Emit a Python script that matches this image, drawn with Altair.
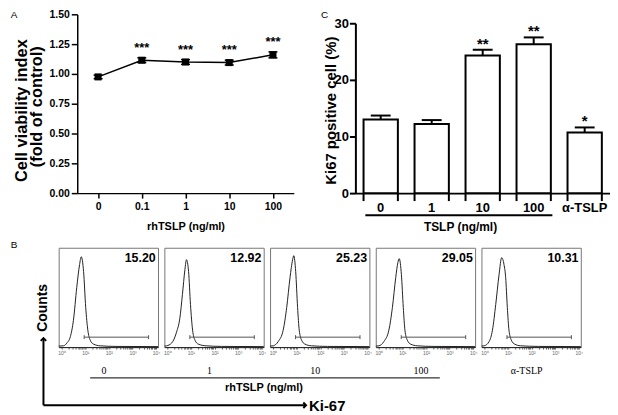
import altair as alt
import pandas as pd

SANS = "Liberation Sans, Arial, Helvetica, sans-serif"
SERIF = "Liberation Serif, Times New Roman, serif"

# ---------------- Panel A : cell viability ----------------
a_conc = ["0", "0.1", "1", "10", "100"]
a_mean = [0.975, 1.115, 1.100, 1.095, 1.160]
a_sem = [0.015, 0.020, 0.020, 0.020, 0.025]
a_sig = ["", "***", "***", "***", "***"]
a_yticks = [0.0, 0.25, 0.5, 0.75, 1.0, 1.25, 1.5]

# ---------------- Panel C : Ki67 positive cells ----------------
c_group = ["0", "1", "10", "100", "α-TSLP"]
c_mean = [13.0, 12.2, 24.3, 26.3, 10.7]
c_sem = [0.7, 0.7, 1.0, 1.2, 0.9]
c_sig = ["", "", "**", "**", "*"]
c_yticks = [0, 10, 20, 30]

# ---------------- Panel B : flow cytometry histograms ----------------
b_group = ["0", "1", "10", "100", "α-TSLP"]
b_pct = ["15.20", "12.92", "25.23", "29.05", "10.31"]
# log10 fluorescence / counts (% of max scale)
b_log_0 = [-0.12, 0.08, 0.22, 0.37, 0.50, 0.64, 0.76, 0.83, 0.93, 1.02, 1.11, 1.21, 1.35, 1.63, 2.3, 4.08]
b_cnt_0 = [1.0, 1.3, 4.0, 10.5, 27, 60, 83, 91, 76, 40, 17, 7, 3, 1.3, 0.7, 0.5]
b_log_1 = [-0.12, -0.03, 0.18, 0.39, 0.53, 0.64, 0.745, 0.81, 0.90, 0.98, 1.07, 1.17, 1.31, 1.64, 2.3, 4.08]
b_cnt_1 = [1.0, 1.3, 4.0, 15, 29, 53, 78, 88, 76, 43, 17, 7, 3, 1.3, 0.7, 0.5]
b_log_2 = [-0.12, 0.01, 0.22, 0.43, 0.58, 0.72, 0.83, 0.88, 0.96, 1.04, 1.11, 1.21, 1.35, 1.63, 2.3, 4.08]
b_cnt_2 = [1.0, 1.3, 5.6, 17, 40, 70, 88, 92, 76, 40, 17, 7, 3, 1.3, 0.7, 0.5]
b_log_3 = [-0.12, 0.01, 0.22, 0.43, 0.58, 0.72, 0.81, 0.87, 0.96, 1.04, 1.11, 1.21, 1.35, 1.63, 2.3, 4.08]
b_cnt_3 = [1.0, 1.3, 5.6, 17, 40, 70, 85, 89, 73, 40, 17, 7, 3, 1.3, 0.7, 0.5]
b_log_4 = [-0.12, -0.01, 0.20, 0.34, 0.48, 0.62, 0.73, 0.83, 0.90, 0.97, 1.04, 1.14, 1.28, 1.53, 2.3, 4.08]
b_cnt_4 = [1.0, 1.3, 5.6, 17, 43, 73, 90, 83, 70, 40, 17, 7, 3, 1.3, 0.7, 0.5]
b_logs = [b_log_0, b_log_1, b_log_2, b_log_3, b_log_4]
b_cnts = [b_cnt_0, b_cnt_1, b_cnt_2, b_cnt_3, b_cnt_4]
b_gate = [9, 4800]
b_gate_level = 10
b_ticks = [k * 10 ** d for d in range(4) for k in range(1, 10)] + [10000]

one = pd.DataFrame({"k": [0]})

# ======================= Panel A =======================
dfA = pd.DataFrame({
    "conc": a_conc,
    "mean": a_mean,
    "lo": [m - e for m, e in zip(a_mean, a_sem)],
    "hi": [m + e for m, e in zip(a_mean, a_sem)],
    "sig": a_sig,
})
A_W, A_H = 236.7, 180
a_xscale = alt.Scale(type="point", range=[18.7, A_W], padding=0.477)
a_xaxis = alt.Axis(title="rhTSLP (ng/ml)", labelAngle=0, labelFontSize=10.5, labelFontWeight="bold",
                   tickSize=5, tickWidth=1.5, domainWidth=1.5, labelPadding=3, domainColor="black",
                   tickColor="black", labelColor="black",
                   titleFontSize=11, titleFontWeight="bold", titleX=127.7, titleY=33.5,
                   titleBaseline="middle", titleAlign="center")
a_yscale = alt.Scale(domain=[0, 1.5], nice=False)
a_yaxis = alt.Axis(values=a_yticks, format=".2f", offset=-18.7, labelFontSize=10.5, labelFontWeight="bold",
                   tickSize=6, tickWidth=1.5, domainWidth=1.5, labelPadding=2, domainColor="black",
                   tickColor="black", labelColor="black", grid=False, title=None)


def xa(f):
    return alt.X(f, type="nominal", sort=a_conc, scale=a_xscale, axis=a_xaxis)


def ya(f):
    return alt.Y(f, type="quantitative", scale=a_yscale, axis=a_yaxis)


baseA = alt.Chart(dfA)
a_line = baseA.mark_line(color="black", strokeWidth=1.5).encode(x=xa("conc"), y=ya("mean"))
a_err = baseA.mark_rule(color="black", strokeWidth=1.5).encode(x=xa("conc"), y=ya("lo"), y2="hi:Q")
a_cap_hi = baseA.mark_tick(color="black", size=9, thickness=1.5, opacity=1).encode(x=xa("conc"), y=ya("hi"))
a_cap_lo = baseA.mark_tick(color="black", size=9, thickness=1.5, opacity=1).encode(x=xa("conc"), y=ya("lo"))
a_pts = baseA.mark_square(color="black", size=50, opacity=1).encode(x=xa("conc"), y=ya("mean"))
a_star = baseA.mark_text(fontSize=13, fontWeight="bold", baseline="alphabetic", dy=-6).encode(
    x=xa("conc"), y=ya("hi"), text="sig:N")
a_letter = alt.Chart(one).mark_text(text="A", fontSize=10, align="left", baseline="alphabetic").encode(
    x=alt.value(-48.3), y=alt.value(3.5))
a_title1 = alt.Chart(one).mark_text(text="Cell viability index", fontSize=16.5, fontWeight="bold",
                                    angle=270, align="center", baseline="middle").encode(
    x=alt.value(-36.4), y=alt.value(97))
a_title2 = alt.Chart(one).mark_text(text="(fold of control)", fontSize=16.5, fontWeight="bold",
                                    angle=270, align="center", baseline="middle").encode(
    x=alt.value(-21.4), y=alt.value(93))
panelA = alt.layer(a_line, a_err, a_cap_hi, a_cap_lo, a_pts, a_star, a_letter, a_title1, a_title2).properties(
    width=A_W, height=A_H)

# ======================= Panel C =======================
dfC = pd.DataFrame({
    "group": c_group,
    "mean": c_mean,
    "hi": [m + e for m, e in zip(c_mean, c_sem)],
    "sig": c_sig,
})
C_W, C_H = 256.3, 180
c_xscale = alt.Scale(type="band", range=[0, C_W], paddingInner=0.327, paddingOuter=0.16)
c_xaxis = alt.Axis(title="TSLP (ng/ml)", labelAngle=0, labelFontSize=13, labelFontWeight="bold",
                   tickSize=8, tickOpacity=0, domainWidth=2, domainColor="black", labelColor="black",
                   labelPadding=0, titleFontSize=12, titleFontWeight="bold", titleX=105.3, titleY=34,
                   titleBaseline="middle", titleAlign="center")
c_yscale = alt.Scale(domain=[0, 30], range=[C_H, 9], nice=False)
c_yaxis = alt.Axis(values=c_yticks, labelFontSize=13, labelFontWeight="bold", tickSize=6, tickWidth=2,
                   domainWidth=2, domainColor="black", tickColor="black", labelColor="black",
                   labelPadding=1, grid=False, title="Ki67 positive cell (%)", titleFontSize=15,
                   titleFontWeight="bold", titleX=-25, titleY=96.5, titleAngle=270,
                   titleBaseline="middle", titleAlign="center")


def xc(f, bp=None):
    if bp is None:
        return alt.X(f, type="nominal", sort=c_group, scale=c_xscale, axis=c_xaxis)
    return alt.X(f, type="nominal", sort=c_group, scale=c_xscale, axis=c_xaxis, bandPosition=bp)


def yc(f):
    return alt.Y(f, type="quantitative", scale=c_yscale, axis=c_yaxis)


baseC = alt.Chart(dfC)
c_err = baseC.mark_rule(color="black", strokeWidth=2).encode(x=xc("group"), y=yc("mean"), y2="hi:Q")
c_cap = baseC.mark_tick(color="black", size=20, thickness=2, opacity=1).encode(x=xc("group"), y=yc("hi"))
c_bar = baseC.mark_bar(fill="white", stroke="black", strokeWidth=2).encode(x=xc("group"), y=yc("mean"))
c_tick0 = baseC.mark_rule(color="black", strokeWidth=2).encode(
    x=xc("group", 0), y=alt.value(C_H), y2=alt.value(C_H + 8))
c_tick1 = baseC.mark_rule(color="black", strokeWidth=2).encode(
    x=xc("group", 1), y=alt.value(C_H), y2=alt.value(C_H + 8))
c_star = baseC.mark_text(fontSize=15, fontWeight="bold", baseline="alphabetic", dy=-1).encode(
    x=xc("group"), y=yc("hi"), text="sig:N")
c_under = alt.Chart(one).mark_rule(color="black", strokeWidth=2).encode(
    x=alt.value(10), x2=alt.value(198.3), y=alt.value(202.3))
c_letter = alt.Chart(one).mark_text(text="C", fontSize=10, align="left", baseline="alphabetic").encode(
    x=alt.value(-34.7), y=alt.value(3.5))
panelC = alt.layer(c_err, c_cap, c_bar, c_tick0, c_tick1, c_star, c_under, c_letter).properties(
    width=C_W, height=C_H)

# ======================= Panel B =======================
B_W, B_H = 100, 100
b_xscale = alt.Scale(type="log", domain=[0.75, 12000], nice=False)
b_yscale = alt.Scale(domain=[0, 100], nice=False)
b_label_expr = ("indexof([1,10,100,1000,10000], datum.value) >= 0 ? "
                "'10' + ['⁰','¹','²','³','⁴'][round(log(datum.value)/LN10)] : ''")


def box(i):
    ax = alt.Axis(values=b_ticks, labelExpr=b_label_expr, labelFontSize=5, labelColor="#666",
                  tickSize=2, tickColor="#666", domainColor="#222", domainWidth=1, labelPadding=1.5,
                  labelFlush=False, labelOverlap=False, grid=False,
                  title=b_group[i], titleFont=SERIF, titleFontWeight="normal", titleFontSize=10,
                  titleColor="black", titleX=45, titleY=23.5, titleBaseline="middle", titleAlign="center")

    def xb(f):
        return alt.X(f, type="quantitative", scale=b_xscale, axis=ax)

    def yb(f):
        return alt.Y(f, type="quantitative", scale=b_yscale, axis=None)

    df = pd.DataFrame({"fl": [10 ** v for v in b_logs[i]], "count": b_cnts[i]})
    curve = alt.Chart(df).mark_line(interpolate="monotone", color="#222", strokeWidth=1).encode(
        x=xb("fl"), y=yb("count"))
    gdf = pd.DataFrame({"lo": [b_gate[0]], "hi": [b_gate[1]], "lvl": [b_gate_level]})
    gate = alt.Chart(gdf).mark_rule(color="#555", strokeWidth=1).encode(x=xb("lo"), x2="hi:Q", y=yb("lvl"))
    cdf = pd.DataFrame({"x": b_gate, "y1": [b_gate_level - 2] * 2, "y2": [b_gate_level + 2] * 2})
    caps = alt.Chart(cdf).mark_rule(color="#555", strokeWidth=1).encode(x=xb("x"), y=yb("y1"), y2="y2:Q")
    pdf = pd.DataFrame({"pct": [b_pct[i]]})
    pct = alt.Chart(pdf).mark_text(align="right", baseline="alphabetic", fontSize=12.5,
                                    fontWeight="bold").encode(
        text="pct:N", x=alt.value(97.7), y=alt.value(14.2))
    layers = [curve, gate, caps, pct]
    if i == 0:
        layers += [
            alt.Chart(one).mark_text(text="B", fontSize=10, align="left", baseline="alphabetic").encode(
                x=alt.value(-48.3), y=alt.value(0.5)),
            alt.Chart(one).mark_rule(color="black", strokeWidth=1).encode(
                x=alt.value(31.7), x2=alt.value(383.7), y=alt.value(131)),
            alt.Chart(one).mark_text(text="rhTSLP (ng/ml)", fontSize=11, fontWeight="bold",
                                     align="center", baseline="middle").encode(
                x=alt.value(206.7), y=alt.value(141.5)),
            alt.Chart(one).mark_rule(color="black", strokeWidth=2).encode(
                x=alt.value(-15.3), y=alt.value(91), y2=alt.value(158.5)),
            alt.Chart(one).mark_rule(color="black", strokeWidth=2).encode(
                x=alt.value(-15.3), x2=alt.value(249), y=alt.value(158.5)),
            alt.Chart(one).mark_point(shape="M-1,1L0,0L1,1", filled=False, color="black", strokeWidth=2,
                                      size=30, opacity=1).encode(x=alt.value(-15.3), y=alt.value(91)),
            alt.Chart(one).mark_point(shape="M-1,-1L0,0L-1,1", filled=False, color="black", strokeWidth=2,
                                      size=30, opacity=1).encode(x=alt.value(249), y=alt.value(158.5)),
            alt.Chart(one).mark_text(text="Counts", fontSize=14, fontWeight="bold", angle=270,
                                     align="center", baseline="middle").encode(
                x=alt.value(-15.3), y=alt.value(60.5)),
            alt.Chart(one).mark_text(text="Ki-67", fontSize=15, fontWeight="bold",
                                     align="left", baseline="middle").encode(
                x=alt.value(252), y=alt.value(159)),
        ]
    return alt.layer(*layers).properties(width=B_W, height=B_H,
                                         view=alt.ViewBackground(stroke="#777", strokeWidth=1))


row1 = alt.hconcat(panelA, panelC, spacing=61.7, bounds="flush")
row2 = alt.hconcat(*[box(i) for i in range(5)], spacing=6.4, bounds="flush")

chart = (
    alt.vconcat(row1, row2, spacing=7)
    .properties(padding={"left": 2, "top": 0, "right": 0, "bottom": 0}, background="white")
    .configure(font=SANS)
    .configure_view(stroke=None)
)

chart.save("out.html", embed_options={"renderer": "svg", "actions": False})
